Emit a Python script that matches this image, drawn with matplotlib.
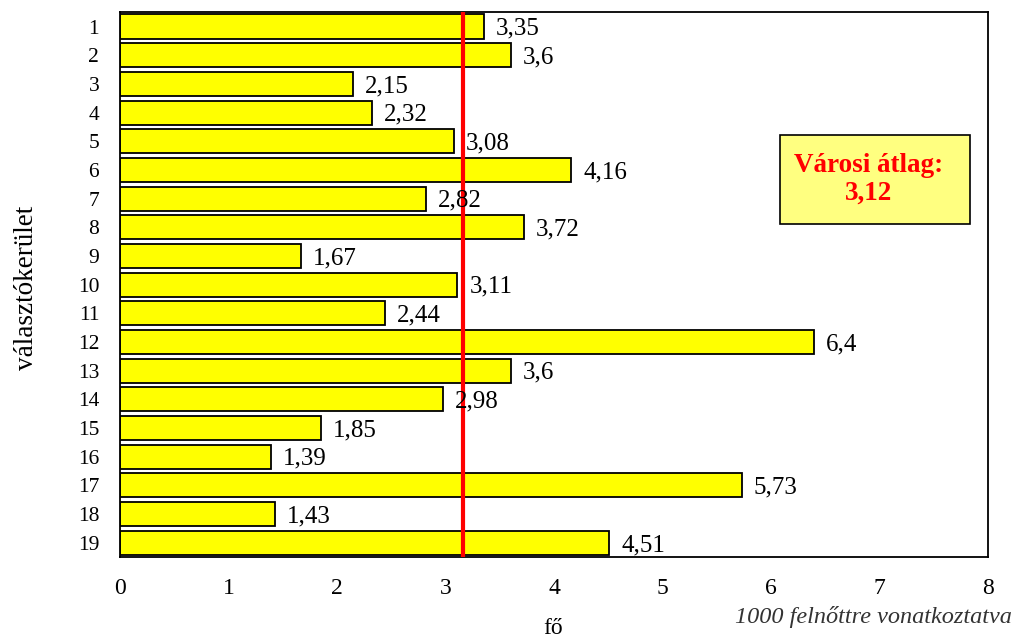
import matplotlib
matplotlib.use("Agg")
import matplotlib.pyplot as plt
from matplotlib.patches import Rectangle

plt.rcParams['font.family'] = ['Liberation Serif', 'DejaVu Serif']

districts = [str(i) for i in range(1, 20)]
values = [3.35, 3.6, 2.15, 2.32, 3.08, 4.16, 2.82, 3.72, 1.67, 3.11,
          2.44, 6.4, 3.6, 2.98, 1.85, 1.39, 5.73, 1.43, 4.51]
labels = ["3,35", "3,6", "2,15", "2,32", "3,08", "4,16", "2,82", "3,72", "1,67", "3,11",
          "2,44", "6,4", "3,6", "2,98", "1,85", "1,39", "5,73", "1,43", "4,51"]
city_avg_line = 3.16   # position of the red line as drawn in the picture
avg_text = "Városi átlag:\n3,12"
xticks = [0, 1, 2, 3, 4, 5, 6, 7, 8]

fig = plt.figure(figsize=(10.19, 6.42), dpi=100)
ax = fig.add_axes([0.1178, 0.1324, 0.8518, 0.8486])

y = list(range(len(values)))
ax.barh(y, values, height=0.84, color='#FFFF00', edgecolor='black', linewidth=1.3, zorder=2)
for yi, v, lab in zip(y, values, labels):
    ax.text(v + 0.11, yi + 0.08, lab, va='center', ha='left', fontsize=18, zorder=4)

ax.axvline(city_avg_line, color='#FF0000', linewidth=3, zorder=3)

ax.set_xlim(0, 8)
ax.set_ylim(len(values) - 0.5, -0.5)
ax.set_xticks(xticks)
ax.set_xticklabels([str(t) for t in xticks], fontsize=17)
ax.set_yticks(y)
ax.set_yticklabels(districts, fontsize=15.5)
ax.tick_params(axis='both', length=0)
ax.tick_params(axis='x', pad=15)
ax.tick_params(axis='y', pad=15)
for s in ax.spines.values():
    s.set_linewidth(1.3)

fig.text(553 / 1019, 1 - 628 / 642, "fő", ha='center', va='center', fontsize=17)
fig.text(27 / 1019, 1 - 288 / 642, "választókerület", ha='center', va='center',
         rotation=90, fontsize=19.5)
fig.text(1012 / 1019, 1 - 617 / 642, "1000 felnőttre vonatkoztatva", ha='right', va='center',
         fontsize=17.5, style='italic', color='#333333')

rect = Rectangle((780 / 1019, 1 - 224 / 642), 190 / 1019, 89 / 642, transform=fig.transFigure,
                 facecolor='#FFFF80', edgecolor='black', linewidth=1.2, zorder=5)
fig.patches.append(rect)
fig.text(869 / 1019, 1 - 179 / 642, avg_text, ha='center', va='center', fontsize=19.5,
         fontweight='bold', color='#FF0000', linespacing=1.15, zorder=6)

fig.savefig("out.png", dpi=100)
